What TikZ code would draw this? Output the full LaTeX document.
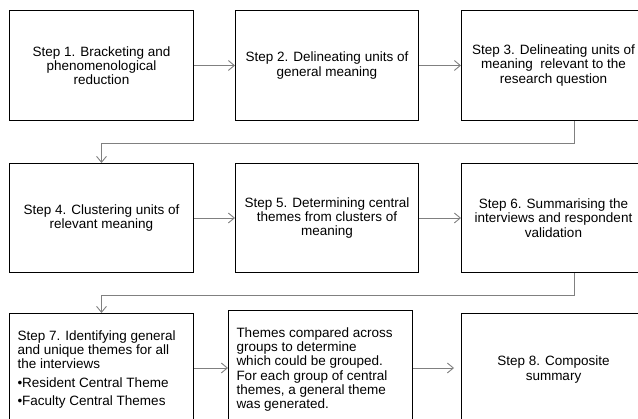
\documentclass[tikz,border=0pt]{standalone}
\usepackage{fontspec}
\setmainfont{Liberation Sans}
\usetikzlibrary{arrows.meta}
\begin{document}
\begin{tikzpicture}[x=1pt,y=-1pt,
  stepbox/.style={draw=black,line width=1pt,anchor=north west,align=center,inner sep=0pt,
    minimum width=184pt,font=\fontsize{13.5}{14.3}\selectfont},
  listbox/.style={stepbox,align=left,inner xsep=8pt,inner ysep=17pt},
  conn/.style={draw=gray,line width=0.9pt,-{Straight Barb[length=6pt,width=10pt]}}]
  \useasboundingbox (0,0) rectangle (638,419);
  \clip (0,0) rectangle (638,419);
  \node[stepbox,minimum height=110pt] (b1) at (9,10) {Step 1. Bracketing and\\phenomenological\\reduction};
  \node[stepbox,minimum height=110pt,minimum width=183pt] (b2) at (235,10) {Step 2. Delineating units of\\general meaning};
  \node[stepbox,minimum height=110pt] (b3) at (461,10) {Step 3. Delineating units of\\meaning\ \ relevant to the\\research question};
  \node[stepbox,minimum height=109pt] (b4) at (9,163) {Step 4. Clustering units of\\relevant meaning};
  \node[stepbox,minimum height=109pt,minimum width=183pt] (b5) at (235,163) {Step 5. Determining central\\themes from clusters of\\meaning};
  \node[stepbox,minimum height=109pt] (b6) at (461,163) {Step 6. Summarising the\\interviews and respondent\\validation};
  \node[listbox] (b7) at (9,313) {\parbox[c][78pt][t]{168pt}{Step 7. Identifying general\\and unique themes for all\\the interviews\par\vspace{4pt}\textbullet Resident Central Theme\par\vspace{4pt}\textbullet Faculty Central Themes}};
  \node[listbox] (cmp) at (228,310) {\parbox[c][81pt][t]{168pt}{Themes compared across\\groups to determine\\which could be grouped.\\For each group of central\\themes, a general theme\\was generated.}};
  \node[stepbox,minimum height=112pt] (b8) at (461,313) {Step 8. Composite\\summary};
  \draw[conn] (b1) -- (b2);
  \draw[conn] (b2) -- (b3);
  \draw[conn] ([xshift=21pt]b3.south) -- ++(0,22) -| (b4.north);
  \draw[conn] (b4) -- (b5);
  \draw[conn] (b5) -- (b6);
  \draw[conn] ([xshift=21pt]b6.south) -- ++(0,22) -| (b7.north);
  \draw[conn] (b7.east |- cmp.east) -- (cmp.west);
  \draw[conn,shorten >=7pt] (cmp.east) -- (b8.west |- cmp.east);
\end{tikzpicture}
\end{document}
